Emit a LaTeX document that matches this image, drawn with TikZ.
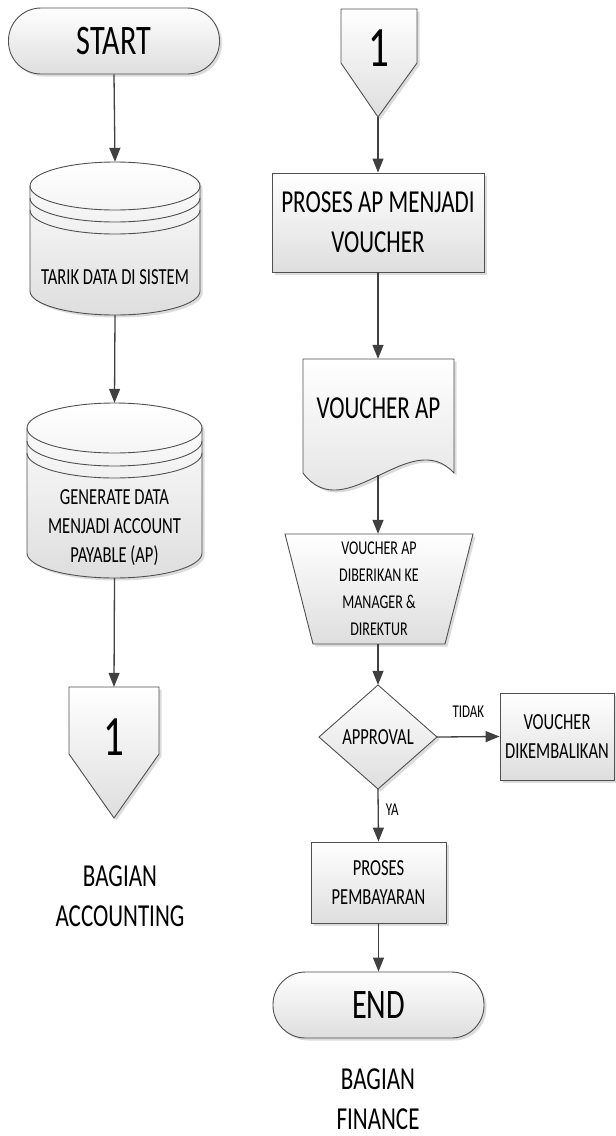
\documentclass[tikz,border=0pt]{standalone}
\usepackage{fontspec}
\setmainfont{Carlito}[FakeStretch=0.72]
\usetikzlibrary{arrows.meta,shadows}
\definecolor{linec}{HTML}{404040}
\definecolor{bordc}{HTML}{505050}
\tikzset{
  shapefill/.style={draw=bordc, line width=0.9pt, top color=white, bottom color=black!13,
    drop shadow={shadow xshift=2.5pt, shadow yshift=-2.5pt, fill=black!30, opacity=0.45}},
  shapeline/.style={draw=bordc, line width=0.9pt},
  anchorbox/.style={draw=none, inner sep=0pt, rectangle},
  boxnode/.style={shapefill, rectangle, inner sep=0pt, align=center},
  termnode/.style={shapefill, rectangle, rounded corners=32.5pt, inner sep=0pt, minimum width=211pt, minimum height=66pt},
  txt/.style={inner sep=0pt, align=center, text=black},
  arr/.style={draw=linec, line width=1.3pt, -{Triangle[length=14pt,width=11pt]}},
  f18/.style={font=\fontsize{18}{22}\selectfont},
  f20/.style={font=\fontsize{19.5}{27}\selectfont},
  f22/.style={font=\fontsize{23}{29}\selectfont},
  f30/.style={font=\fontsize{32}{40}\selectfont},
  f32/.style={font=\fontsize{32}{40}\selectfont},
  f42/.style={font=\fontsize{42}{48}\selectfont},
  f55/.style={font=\fontsize{57}{60}\selectfont},
}
\newcommand\mycyl[7]{%
  \path[shapefill] (#1-#2,#3) -- (#1-#2,#4)
     arc[start angle=180,end angle=360,x radius=#2,y radius=#5]
     -- (#1+#2,#3) arc[start angle=0,end angle=180,x radius=#2,y radius=#5] -- cycle;
  \draw[shapeline] (#1-#2,#3) arc[start angle=180,end angle=360,x radius=#2,y radius=#5];
  \draw[shapeline] (#1-#2,#3-#6) arc[start angle=180,end angle=360,x radius=#2,y radius=#5];
  \draw[shapeline] (#1-#2,#3-#7) arc[start angle=180,end angle=360,x radius=#2,y radius=#5];
}
\begin{document}
\begin{tikzpicture}[x=1pt,y=1pt]
\useasboundingbox (0,0) rectangle (616,-1136);

% ---------------- left column ----------------
\node[termnode, f42] (start) at (114,-41) {START};

\mycyl{115}{85}{-186}{-291}{24}{12}{24}
\node[anchorbox, minimum width=170pt, minimum height=153pt] (cyl1) at (115,-238.5) {};
\node[txt, f22] (cyl1t) at (115,-277) {TARIK DATA DI SISTEM};

\mycyl{114.5}{87.5}{-428}{-553}{25}{13}{25}
\node[anchorbox, minimum width=175pt, minimum height=175pt] (cyl2) at (114.5,-490.5) {};
\node[txt, f22] (cyl2t) at (114.5,-528) {GENERATE DATA\\MENJADI ACCOUNT\\PAYABLE (AP)};

\path[shapefill] (69,-687) -- (159,-687) -- (159,-754) -- (114,-818) -- (69,-754) -- cycle;
\node[anchorbox, minimum width=90pt, minimum height=131pt] (off1) at (114,-752.5) {};
\node[txt, f55] (off1t) at (114,-737) {1};

\node[txt, f32] (lblacc) at (120,-896) {BAGIAN\\ACCOUNTING};

\draw[arr] (start.south) -- (cyl1.north);
\draw[arr] (cyl1.south) -- (cyl2.north);
\draw[arr] (cyl2.south) -- (off1.north);

% ---------------- right column ----------------
\path[shapefill] (341,-9) -- (417,-9) -- (417,-63) -- (378,-117) -- (341,-63) -- cycle;
\node[anchorbox, minimum width=76pt, minimum height=108pt] (off2) at (378,-63) {};
\node[txt, f55] (off2t) at (379,-48) {1};

\node[boxnode, f30, minimum width=212pt, minimum height=99pt] (proc1) at (378,-222.5) {PROSES AP MENJADI\\VOUCHER};

\path[shapefill] (303,-359) -- (454,-359) -- (454,-473)
   .. controls (410,-425) and (345,-529) .. (303,-473) -- cycle;
\node[anchorbox, minimum width=151pt, minimum height=114pt] (doc) at (378,-416) {};
\node[txt, f30] (doct) at (378.5,-408) {VOUCHER AP};

\path[shapefill] (285,-534) -- (473,-534) -- (445,-644) -- (313,-644) -- cycle;
\node[anchorbox, minimum width=188pt, minimum height=110pt] (trap) at (378,-589) {};
\node[txt, f20] (trapt) at (379,-589) {VOUCHER AP\\DIBERIKAN KE\\MANAGER \&\\DIREKTUR};

\path[shapefill] (378,-685) -- (437,-737) -- (378,-789) -- (319,-737) -- cycle;
\node[anchorbox, minimum width=118pt, minimum height=104pt] (dia) at (378,-737) {};
\node[txt, f22] (diat) at (378,-737) {APPROVAL};

\node[boxnode, f22, minimum width=114pt, minimum height=87pt] (rej) at (557,-736.5) {VOUCHER\\DIKEMBALIKAN};

\node[boxnode, f22, minimum width=135pt, minimum height=81pt] (pay) at (378.5,-882.5) {PROSES\\PEMBAYARAN};

\node[termnode, f42] (end) at (378.5,-1005) {END};

\node[txt, f32] (lblfin) at (378,-1099) {BAGIAN\\FINANCE};

\coordinate (docb) at (378,-475);
\draw[arr] (off2.south) -- (proc1.north);
\draw[arr] (proc1.south) -- (doc.north);
\draw[arr] (docb) -- (trap.north);
\draw[arr] (trap.south) -- (dia.north);
\draw[arr] (dia.east) -- node[txt, f18, above=19pt, pos=0.5] (tidak) {TIDAK} (rej.west);
\draw[arr] (dia.south) -- node[txt, f18, right=7pt, pos=0.4] (ya) {YA} (pay.north);
\draw[arr] (pay.south) -- (end.north);
\end{tikzpicture}
\end{document}
